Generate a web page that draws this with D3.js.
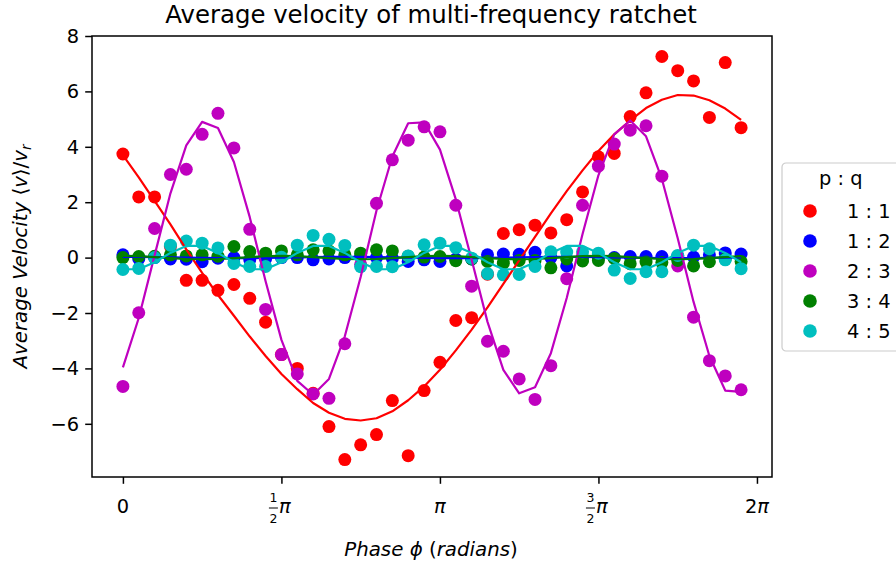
<!DOCTYPE html>
<html>
<head>
<meta charset="utf-8">
<script src="https://cdn.jsdelivr.net/npm/d3@7/dist/d3.min.js"></script>
<style>
body { margin: 0; background: #fff; }
svg text { font-family: "DejaVu Sans", sans-serif; fill: #000; }
</style>
</head>
<body>
<svg id="chart" width="896" height="566"></svg>
<script>
// phase values (radians), 40 samples over one period
var phase = [0, 0.157, 0.314, 0.471, 0.628, 0.785, 0.942, 1.100, 1.257, 1.414,
	1.571, 1.728, 1.885, 2.042, 2.199, 2.356, 2.513, 2.670, 2.827, 2.985,
	3.142, 3.299, 3.456, 3.613, 3.770, 3.927, 4.084, 4.241, 4.398, 4.555,
	4.712, 4.869, 5.027, 5.184, 5.341, 5.498, 5.655, 5.812, 5.969, 6.126];

// measured average velocity, one list per p:q
var vel11 = [3.74, 2.19, 2.19, 0.4, -0.82, -0.82, -1.18, -0.97, -1.47, -2.33,
	-3.5, -4.0, -4.9, -6.1, -7.29, -6.76, -6.39, -5.16, -7.15, -4.8,
	-3.78, -2.27, -2.17, -0.6, 0.87, 1.01, 1.17, 0.89, 1.37, 2.37,
	3.64, 3.76, 5.09, 5.95, 7.26, 6.75, 6.38, 5.06, 7.04, 4.69];
var vel12 = [0.1, -0.05, 0.0, -0.05, -0.06, -0.15, -0.02, 0.0, -0.08, -0.05,
	0.0, 0.0, -0.08, -0.05, 0.0, 0.04, 0.0, -0.02, -0.14, -0.08,
	-0.14, -0.05, -0.05, 0.1, 0.13, 0.12, 0.19, 0.0, -0.3, 0.0,
	0.0, 0.0, 0.04, 0.04, 0.04, 0.05, 0.02, 0.1, 0.17, 0.13];
var vel23 = [-4.65, -1.99, 1.05, 3.0, 3.19, 4.45, 5.21, 3.96, 1.02, -1.87,
	-3.5, -4.2, -4.92, -5.08, -3.11, -0.25, 1.96, 3.53, 4.24, 4.72,
	4.54, 1.89, -1.03, -3.02, -3.38, -4.38, -5.12, -3.9, -0.76, 1.89,
	3.3, 4.1, 4.6, 4.76, 2.94, -0.3, -2.15, -3.72, -4.27, -4.77];
var vel34 = [0.0, 0.04, 0.05, 0.1, 0.06, 0.1, 0.05, 0.4, 0.22, 0.16,
	0.24, 0.1, 0.28, 0.24, 0.1, 0.16, 0.28, 0.24, 0.05, 0.02,
	0.04, -0.11, -0.05, -0.14, -0.2, -0.1, -0.1, -0.37, -0.05, -0.12,
	-0.1, -0.03, -0.22, -0.16, -0.18, -0.1, -0.3, -0.15, -0.05, -0.14];
var vel45 = [-0.43, -0.39, 0.0, 0.45, 0.6, 0.52, 0.35, -0.21, -0.32, -0.32,
	0.01, 0.45, 0.8, 0.66, 0.44, -0.33, -0.32, -0.33, 0.06, 0.46,
	0.52, 0.36, -0.02, -0.58, -0.62, -0.61, -0.32, 0.21, 0.2, 0.21,
	0.16, -0.45, -0.75, -0.51, -0.51, 0.08, 0.45, 0.32, -0.08, -0.4];

// fitted curves
var fit11 = [3.70, 2.90, 2.05, 1.20, 0.30, -0.55, -1.35, -2.10, -2.85, -3.55,
	-4.20, -4.75, -5.25, -5.60, -5.82, -5.88, -5.80, -5.55, -5.15, -4.65,
	-4.05, -3.35, -2.60, -1.80, -0.95, -0.10, 0.75, 1.60, 2.40, 3.15,
	3.85, 4.45, 4.95, 5.40, 5.70, 5.87, 5.85, 5.68, 5.38, 4.97];
var fit12 = [0.03, 0.03, 0.02, 0.01, 0.0, -0.01, -0.02, -0.02, -0.02, -0.01,
	0.0, 0.01, 0.02, 0.03, 0.03, 0.03, 0.02, 0.01, 0.0, -0.01,
	-0.02, -0.02, -0.02, -0.01, 0.0, 0.01, 0.02, 0.03, 0.03, 0.03,
	0.02, 0.01, 0.0, -0.01, -0.02, -0.02, -0.02, -0.01, 0.0, 0.01];
var fit23 = [-3.96, -2.18, 0.08, 2.32, 4.05, 4.90, 4.68, 3.45, 1.46, -0.85,
	-2.97, -4.45, -4.95, -4.38, -2.84, -0.70, 1.70, 3.65, 4.85, 4.88,
	3.90, 2.10, -0.08, -2.32, -4.05, -4.90, -4.68, -3.45, -1.46, 0.85,
	2.97, 4.45, 4.95, 4.38, 2.84, 0.70, -1.60, -3.55, -4.80, -4.85];
var fit34 = [0.06, 0.05, 0.02, -0.02, -0.05, -0.06, -0.05, -0.02, 0.02, 0.05,
	0.06, 0.05, 0.02, -0.02, -0.05, -0.06, -0.05, -0.02, 0.02, 0.05,
	0.06, 0.05, 0.02, -0.02, -0.05, -0.06, -0.05, -0.02, 0.02, 0.05,
	0.06, 0.05, 0.02, -0.02, -0.05, -0.06, -0.05, -0.02, 0.02, 0.05];
var fit45 = [-0.42, -0.42, -0.17, 0.17, 0.42, 0.42, 0.17, -0.17, -0.42, -0.42,
	-0.17, 0.17, 0.42, 0.42, 0.17, -0.17, -0.42, -0.42, -0.17, 0.17,
	0.42, 0.42, 0.17, -0.17, -0.42, -0.42, -0.17, 0.17, 0.42, 0.42,
	0.17, -0.17, -0.42, -0.42, -0.17, 0.17, 0.42, 0.42, 0.17, -0.17];

var ratios = ["1 : 1", "1 : 2", "2 : 3", "3 : 4", "4 : 5"];
var colors = ["#ff0000", "#0000ff", "#bf00bf", "#008000", "#00bfbf"];
var yTicks = [-6, -4, -2, 0, 2, 4, 6, 8];
var xTicks = [0, Math.PI / 2, Math.PI, 3 * Math.PI / 2, 2 * Math.PI];
var xTickLabels = [["0"], ["1", "2", "π"], ["π"], ["3", "2", "π"], ["2", "π"]];

var series = [
	{vel: vel11, fit: fit11},
	{vel: vel12, fit: fit12},
	{vel: vel23, fit: fit23},
	{vel: vel34, fit: fit34},
	{vel: vel45, fit: fit45}
];

var L = 92, R = 772, T = 36, B = 477;
var svg = d3.select("#chart");

var ext = d3.extent(phase), pad = (ext[1] - ext[0]) * 0.05;
var x = d3.scaleLinear().domain([ext[0] - pad, ext[1] + pad]).range([L, R]);
var y = d3.scaleLinear().domain([-7.92, 8]).range([B, T]);

var plot = svg.append("g");

// scatter first (matplotlib puts collections under lines)
series.forEach(function(s, i){
	plot.append("g").selectAll("circle")
		.data(s.vel)
		.enter().append("circle")
		.attr("cx", function(d, k){ return x(phase[k]); })
		.attr("cy", function(d){ return y(d); })
		.attr("r", 6.5)
		.attr("fill", colors[i]);
});

var line = d3.line()
	.x(function(d, k){ return x(phase[k]); })
	.y(function(d){ return y(d); });

series.forEach(function(s, i){
	plot.append("path")
		.datum(s.fit)
		.attr("d", line)
		.attr("fill", "none")
		.attr("stroke", colors[i])
		.attr("stroke-width", 2.2)
		.attr("stroke-linejoin", "round");
});

// y axis
var yAxis = svg.append("g")
	.attr("transform", "translate(" + L + ",0)")
	.call(d3.axisLeft(y).tickValues(yTicks).tickSize(6.8).tickPadding(6)
		.tickFormat(function(d){ return d < 0 ? "\u2212" + Math.abs(d) : d; }));
yAxis.select(".domain").remove();
yAxis.selectAll("line").attr("stroke", "#000").attr("stroke-width", 1.5);
yAxis.selectAll("text").attr("font-size", "19.4px").attr("font-family", "DejaVu Sans").attr("fill", "#000");

// x axis with pi labels
var xAxis = svg.append("g")
	.attr("transform", "translate(0," + B + ")")
	.call(d3.axisBottom(x).tickValues(xTicks).tickSize(6.8).tickFormat(""));
xAxis.select(".domain").remove();
xAxis.selectAll("line").attr("stroke", "#000").attr("stroke-width", 1.5);

xTicks.forEach(function(t, i){
	var g = svg.append("g").attr("transform", "translate(" + x(t) + ",513)");
	var lab = xTickLabels[i];
	if(lab.length == 1 && lab[0] == "0"){
		g.append("text").attr("text-anchor", "middle").attr("font-size", "19.4px").text("0");
	}
	else if(lab.length == 1){
		g.append("text").attr("text-anchor", "middle").attr("font-size", "19.4px")
			.attr("font-style", "italic").text("π");
	}
	else if(lab.length == 2){
		var tx = g.append("text").attr("text-anchor", "middle").attr("font-size", "19.4px");
		tx.append("tspan").text(lab[0]);
		tx.append("tspan").attr("font-style", "italic").text(lab[1]);
	}
	else{
		g.append("text").attr("x", -8).attr("y", -11).attr("text-anchor", "middle")
			.attr("font-size", "12.5px").text(lab[0]);
		g.append("text").attr("x", -8).attr("y", 10).attr("text-anchor", "middle")
			.attr("font-size", "12.5px").text(lab[1]);
		g.append("line").attr("x1", -12.5).attr("x2", -3.5).attr("y1", -5).attr("y2", -5)
			.attr("stroke", "#000").attr("stroke-width", 1);
		g.append("text").attr("x", -2.5).attr("font-size", "19.4px")
			.attr("font-style", "italic").text(lab[2]);
	}
});

// frame
svg.append("rect")
	.attr("x", L).attr("y", T)
	.attr("width", R - L).attr("height", B - T)
	.attr("fill", "none").attr("stroke", "#000").attr("stroke-width", 1.5);

// title and axis labels
svg.append("text")
	.attr("x", (L + R) / 2 - 1).attr("y", 23)
	.attr("text-anchor", "middle").attr("font-size", "24.4px")
	.text("Average velocity of multi-frequency ratchet");

var xl = svg.append("text")
	.attr("x", (L + R) / 2 - 1).attr("y", 556)
	.attr("text-anchor", "middle").attr("font-size", "19.8px");
xl.append("tspan").attr("font-style", "italic").text("Phase ϕ ");
xl.append("tspan").text("(");
xl.append("tspan").attr("font-style", "italic").text("radians");
xl.append("tspan").text(")");

var yl = svg.append("text")
	.attr("transform", "translate(27," + ((T + B) / 2) + ") rotate(-90)")
	.attr("text-anchor", "middle").attr("font-size", "19.8px");
yl.append("tspan").attr("font-style", "italic").text("Average Velocity ");
yl.append("tspan").text("⟨");
yl.append("tspan").attr("font-style", "italic").text("v");
yl.append("tspan").text("⟩/");
yl.append("tspan").attr("font-style", "italic").text("v");
yl.append("tspan").attr("font-style", "italic").attr("font-size", "13.5px").attr("dy", 4).text("r");

// legend
var leg = svg.append("g").attr("transform", "translate(782,163)");
leg.append("rect")
	.attr("width", 120).attr("height", 188).attr("rx", 4)
	.attr("fill", "#fff").attr("fill-opacity", 0.8)
	.attr("stroke", "#cccccc").attr("stroke-width", 1.2);
leg.append("text").attr("x", 58.8).attr("y", 22)
	.attr("text-anchor", "middle").attr("font-size", "19.4px").text("p : q");
ratios.forEach(function(r, i){
	var row = leg.append("g").attr("transform", "translate(0," + (48 + i * 30) + ")");
	row.append("circle").attr("cx", 28).attr("cy", 0).attr("r", 6.8).attr("fill", colors[i]);
	row.append("text").attr("x", 65).attr("y", 7).attr("font-size", "19.4px").text(r);
});
</script>
</body>
</html>
